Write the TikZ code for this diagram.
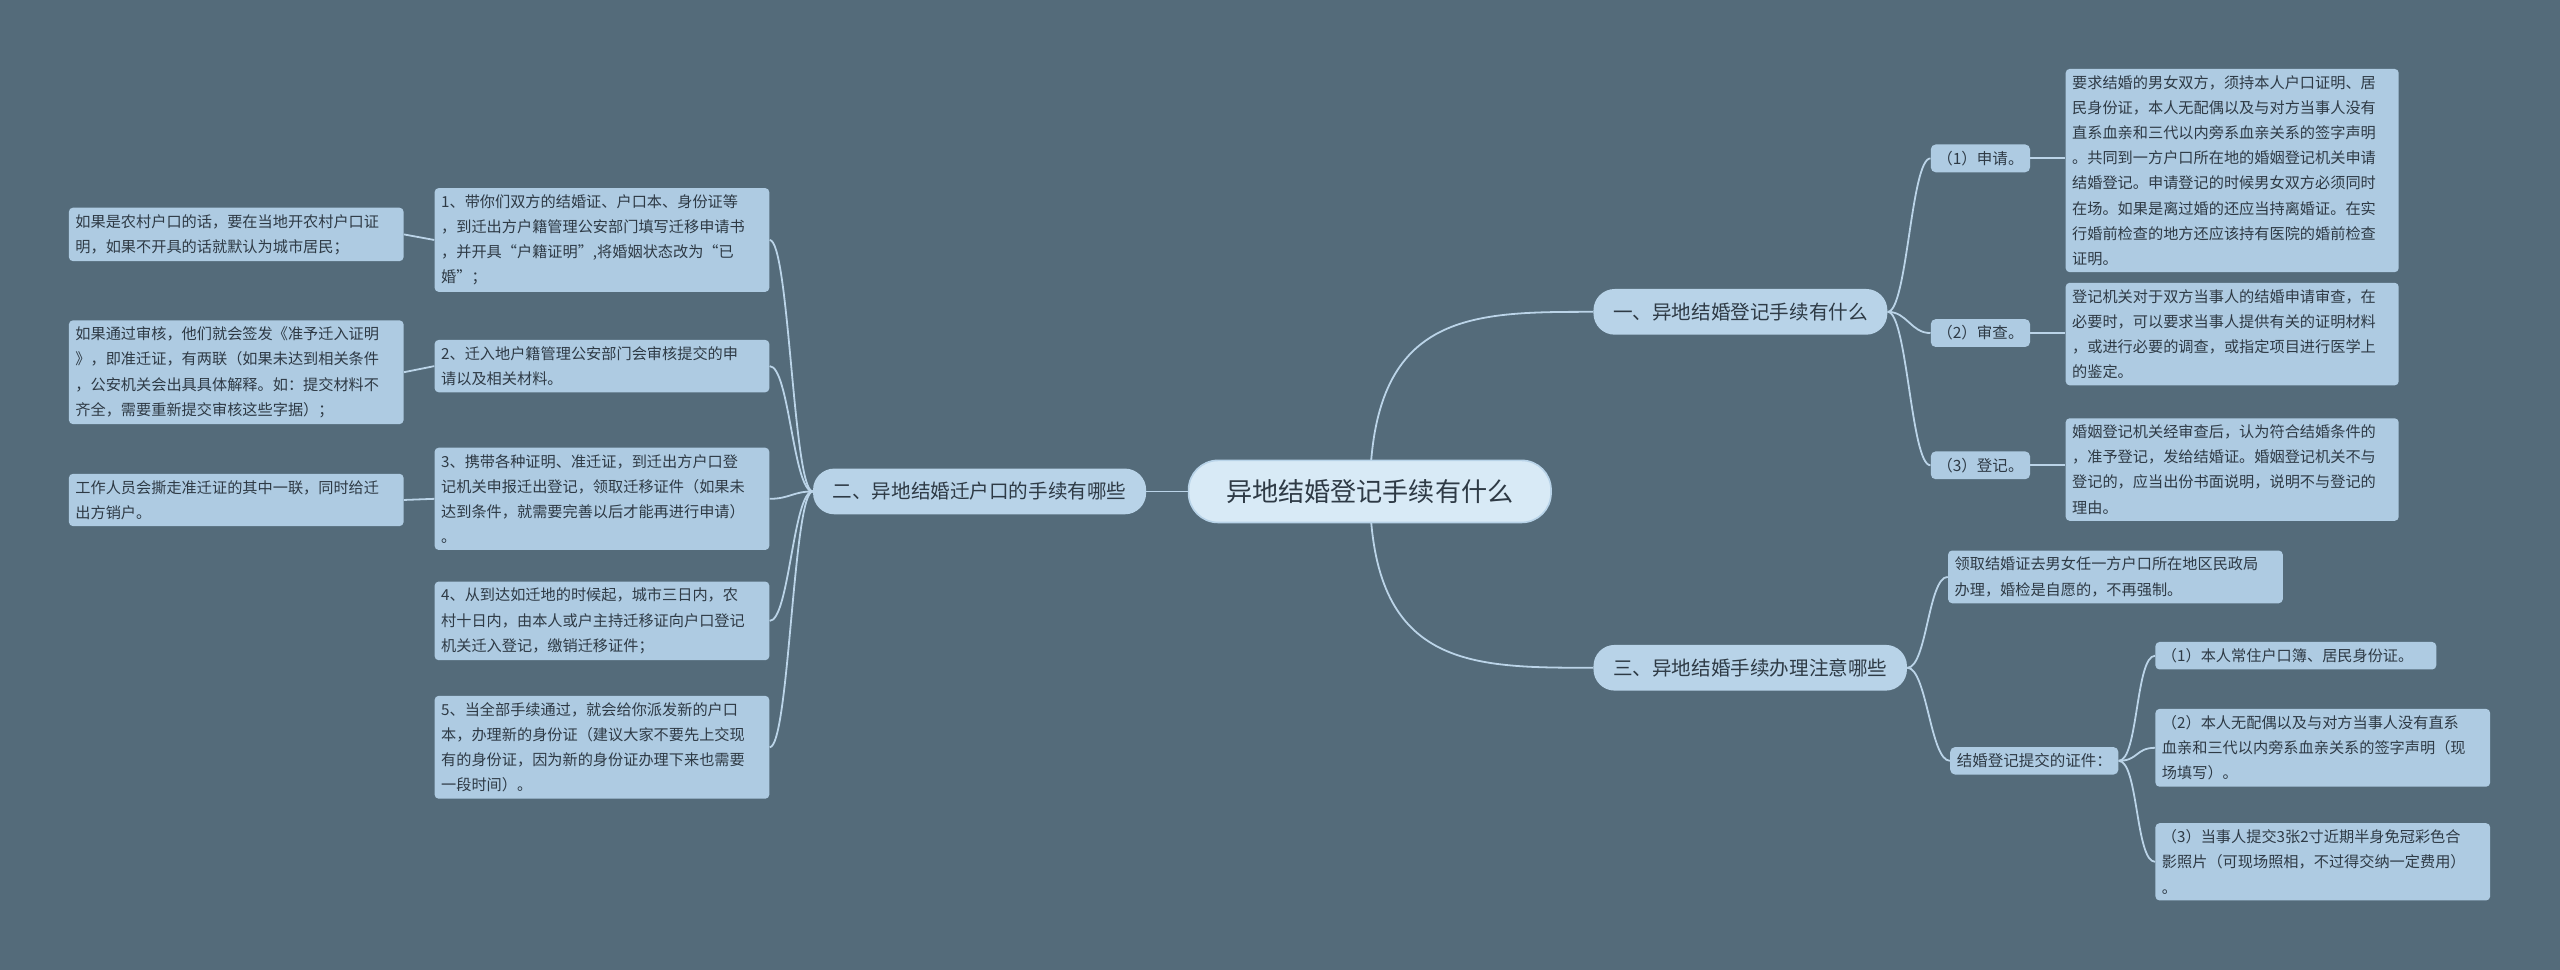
\documentclass[tikz,border=0pt]{standalone}
\usepackage{fontspec}
\setmainfont{Noto Sans CJK SC}
\begin{document}
\begin{tikzpicture}[x=1pt,y=-1pt,
 leaf/.style={anchor=north west,fill=leafc,rounded corners=2.5pt,inner sep=4pt,align=left,text=txt,font=\fontsize{9.3}{15.4}\selectfont},
 kid/.style={fill=leafc,rounded corners=3pt,inner sep=4pt,text=txt,font=\fontsize{9.5}{15}\selectfont},
 branch/.style={fill=brc,rounded corners=13pt,inner xsep=12pt,minimum height=28pt,text=txt,font=\fontsize{12}{14}\selectfont},
 ln/.style={draw=linec,line width=1.1pt}]
\definecolor{bgc}{HTML}{546B7A}
\definecolor{leafc}{HTML}{AECBE2}
\definecolor{brc}{HTML}{B8D3E8}
\definecolor{cenc}{HTML}{D8EAF6}
\definecolor{linec}{HTML}{BBD4E8}
\definecolor{txt}{HTML}{2E3A45}
\pgfdeclarelayer{edges}\pgfsetlayers{edges,main}
\useasboundingbox (0,0) rectangle (1568,594);
\begin{pgfonlayer}{edges}\fill[bgc] (0,0) rectangle (1568,594);\end{pgfonlayer}
\node[fill=cenc,draw=brc,line width=1pt,rounded corners=18pt,minimum width=222pt,minimum height=38pt,text=txt,font=\fontsize{16}{18}\selectfont] (c) at (839,301) {异地结婚登记手续有什么};
\node[branch] (b1) at (1066,191) {一、异地结婚登记手续有什么};
\node[branch] (b3) at (1072,409) {三、异地结婚手续办理注意哪些};
\node[branch] (b2) at (600,301) {二、异地结婚迁户口的手续有哪些};
% branch1
\node[kid] (k11) at (1213,97) {（1）申请。};
\node[kid] (k12) at (1213,204) {（2）审查。};
\node[kid] (k13) at (1213,285) {（3）登记。};
\node[leaf,text width=196pt] (l11) at (1265,42) {要求结婚的男女双方，须持本人户口证明、居\\民身份证，本人无配偶以及与对方当事人没有\\直系血亲和三代以内旁系血亲关系的签字声明\\。共同到一方户口所在地的婚姻登记机关申请\\结婚登记。申请登记的时候男女双方必须同时\\在场。如果是离过婚的还应当持离婚证。在实\\行婚前检查的地方还应该持有医院的婚前检查\\证明。};
\node[leaf,text width=196pt] (l12) at (1265,173) {登记机关对于双方当事人的结婚申请审查，在\\必要时，可以要求当事人提供有关的证明材料\\，或进行必要的调查，或指定项目进行医学上\\的鉴定。};
\node[leaf,text width=196pt] (l13) at (1265,256) {婚姻登记机关经审查后，认为符合结婚条件的\\，准予登记，发给结婚证。婚姻登记机关不与\\登记的，应当出份书面说明，说明不与登记的\\理由。};
% branch3
\node[leaf,text width=197pt] (k31) at (1193,337) {领取结婚证去男女任一方户口所在地区民政局\\办理，婚检是自愿的，不再强制。};
\node[kid] (k32) at (1246,466) {结婚登记提交的证件：};
\node[leaf,text width=164pt] (l31) at (1320,393) {（1）本人常住户口簿、居民身份证。};
\node[leaf,text width=197pt] (l32) at (1320,434) {（2）本人无配偶以及与对方当事人没有直系\\血亲和三代以内旁系血亲关系的签字声明（现\\场填写）。};
\node[leaf,text width=197pt] (l33) at (1320,504) {（3）当事人提交3张2寸近期半身免冠彩色合\\影照片（可现场照相，不过得交纳一定费用）\\。};
% branch2
\node[leaf,text width=197pt] (k21) at (266,115) {1、带你们双方的结婚证、户口本、身份证等\\，到迁出方户籍管理公安部门填写迁移申请书\\，并开具“户籍证明”,将婚姻状态改为“已\\婚”；};
\node[leaf,text width=197pt] (k22) at (266,208) {2、迁入地户籍管理公安部门会审核提交的申\\请以及相关材料。};
\node[leaf,text width=197pt] (k23) at (266,274) {3、携带各种证明、准迁证，到迁出方户口登\\记机关申报迁出登记，领取迁移证件（如果未\\达到条件，就需要完善以后才能再进行申请）\\。};
\node[leaf,text width=197pt] (k24) at (266,356) {4、从到达如迁地的时候起，城市三日内，农\\村十日内，由本人或户主持迁移证向户口登记\\机关迁入登记，缴销迁移证件；};
\node[leaf,text width=197pt] (k25) at (266,426) {5、当全部手续通过，就会给你派发新的户口\\本，办理新的身份证（建议大家不要先上交现\\有的身份证，因为新的身份证办理下来也需要\\一段时间）。};
\node[leaf,text width=197pt] (l21) at (42,127) {如果是农村户口的话，要在当地开农村户口证\\明，如果不开具的话就默认为城市居民；};
\node[leaf,text width=197pt] (l22) at (42,196) {如果通过审核，他们就会签发《准予迁入证明\\》，即准迁证，有两联（如果未达到相关条件\\，公安机关会出具具体解释。如：提交材料不\\齐全，需要重新提交审核这些字据）；};
\node[leaf,text width=197pt] (l23) at (42,290) {工作人员会撕走准迁证的其中一联，同时给迁\\出方销户。};
\begin{pgfonlayer}{edges}
\draw[ln] (c.center) .. controls (840,191) and (900,191) .. (b1.west);
\draw[ln] (c.center) .. controls (840,409) and (900,409) .. (b3.west);
\draw[ln] (c.west) -- (b2.east);
\foreach \k in {k11,k12,k13} \draw[ln] (b1.east) .. controls +(12,0) and +(-12,0) .. (\k.west);
\draw[ln] (k11.east)--(l11.west|-k11.east);
\draw[ln] (k12.east)--(l12.west|-k12.east);
\draw[ln] (k13.east)--(l13.west|-k13.east);
\foreach \k in {k31,k32} \draw[ln] (b3.east) .. controls +(12,0) and +(-12,0) .. (\k.west);
\foreach \k in {l31,l32,l33} \draw[ln] (k32.east) .. controls +(12,0) and +(-12,0) .. (\k.west);
\foreach \k in {k21,k22,k23,k24,k25} \draw[ln] (b2.west) .. controls +(-12,0) and +(12,0) .. (\k.east);
\draw[ln] (k21.west)--(l21.east);
\draw[ln] (k22.west)--(l22.east);
\draw[ln] (k23.west)--(l23.east);
\end{pgfonlayer}
\end{tikzpicture}
\end{document}
